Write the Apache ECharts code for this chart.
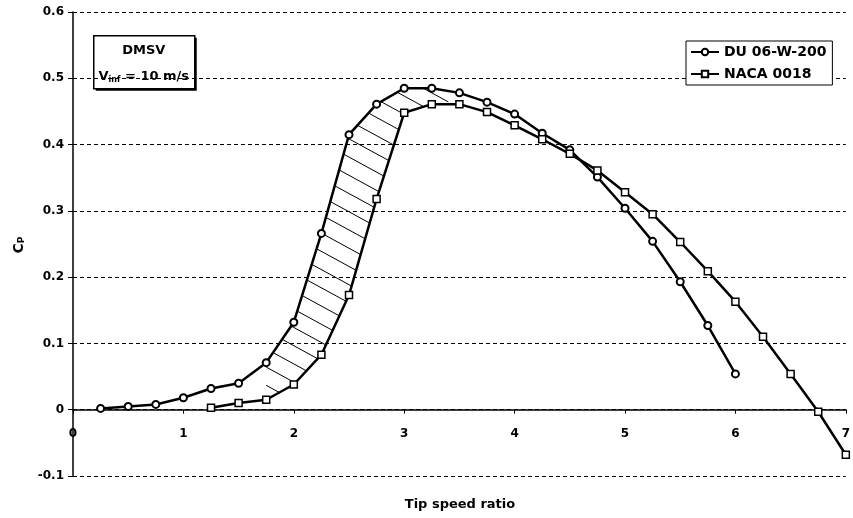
<!DOCTYPE html>
<html><head><meta charset="utf-8">
<script src="https://cdn.jsdelivr.net/npm/echarts@6/dist/echarts.min.js"></script>
<style>html,body{margin:0;padding:0;background:#fff}#c{width:853px;height:518px}</style>
</head><body><div id="c"></div>
<script>
// ---- data ----
const duX  = [0.25,0.5,0.75,1.0,1.25,1.5,1.75,2.0,2.25,2.5,2.75,3.0,3.25,3.5,3.75,4.0,4.25,4.5,4.75,5.0,5.25,5.5,5.75,6.0];
const duCp = [0.002,0.005,0.008,0.018,0.032,0.040,0.071,0.132,0.266,0.415,0.461,0.485,0.485,0.478,0.464,0.446,0.417,0.392,0.351,0.304,0.254,0.193,0.127,0.054];
const nacaX  = [1.25,1.5,1.75,2.0,2.25,2.5,2.75,3.0,3.25,3.5,3.75,4.0,4.25,4.5,4.75,5.0,5.25,5.5,5.75,6.0,6.25,6.5,6.75,7.0];
const nacaCp = [0.003,0.010,0.015,0.038,0.083,0.173,0.318,0.448,0.461,0.461,0.449,0.429,0.408,0.386,0.361,0.328,0.295,0.253,0.209,0.163,0.110,0.054,-0.003,-0.068];
const seriesNames = ['DU 06-W-200','NACA 0018'];
const hatchRange = [1.75, 3.4];   // x-range of hatched region between the curves
const xTickMin = 0, xTickMax = 7, xTickStep = 1;
const yTickMin = -0.1, yTickMax = 0.6, yTickStep = 0.1;

const FONT = 'DejaVu Sans';
const GRID = {left:73, right:5, top:12, bottom:42};
const chartH = 518;
const gridH = chartH - GRID.top - GRID.bottom;
// shift the x axis up so it sits on the y = 0 line
const xAxisOffset = -gridH * (0 - yTickMin) / (yTickMax - yTickMin);

const chart = echarts.init(document.getElementById('c'));

function interp(xs, ys, x){
  for (let i=0;i<xs.length-1;i++){
    if (x>=xs[i] && x<=xs[i+1]){
      const t=(x-xs[i])/(xs[i+1]-xs[i]);
      return ys[i]+t*(ys[i+1]-ys[i]);
    }
  }
  return null;
}
function segment(xs, ys, a, b){
  const pts=[[a, interp(xs,ys,a)]];
  xs.forEach((x,i)=>{ if (x>a && x<b) pts.push([x, ys[i]]); });
  pts.push([b, interp(xs,ys,b)]);
  return pts;
}

function renderHatch(params, api){
  const a=hatchRange[0], b=hatchRange[1];
  const up = segment(duX,duCp,a,b).map(p=>api.coord(p));
  const lo = segment(nacaX,nacaCp,a,b).reverse().map(p=>api.coord(p));
  const poly = up.concat(lo);
  const d=[33,18], L=Math.hypot(d[0],d[1]);
  const u=[d[0]/L,d[1]/L];
  const n=[-u[1],u[0]];
  const proj = p=>n[0]*p[0]+n[1]*p[1];
  let cmin=Infinity,cmax=-Infinity;
  poly.forEach(p=>{const c=proj(p); cmin=Math.min(cmin,c); cmax=Math.max(cmax,c);});
  const step = 16;
  const children=[];
  for (let c=cmin+step*0.6; c<cmax; c+=step){
    const hits=[];
    for (let i=0;i<poly.length;i++){
      const P=poly[i], Q=poly[(i+1)%poly.length];
      const fp=proj(P)-c, fq=proj(Q)-c;
      if ((fp<0&&fq>=0)||(fp>=0&&fq<0)){
        const t=fp/(fp-fq);
        hits.push([P[0]+t*(Q[0]-P[0]), P[1]+t*(Q[1]-P[1])]);
      }
    }
    hits.sort((A,B)=>(A[0]*u[0]+A[1]*u[1])-(B[0]*u[0]+B[1]*u[1]));
    for (let k=0;k+1<hits.length;k+=2){
      children.push({type:'line', shape:{x1:hits[k][0],y1:hits[k][1],x2:hits[k+1][0],y2:hits[k+1][1]},
        style:{stroke:'#000', lineWidth:1}});
    }
  }
  return {type:'group', children};
}

const option = {
  animation:false,
  backgroundColor:'#fff',
  grid:{left:GRID.left, right:GRID.right, top:GRID.top, bottom:GRID.bottom, containLabel:false},
  xAxis:{
    type:'value', min:xTickMin, max:xTickMax, interval:xTickStep,
    position:'bottom', offset:xAxisOffset,
    axisLine:{show:true, onZero:false, lineStyle:{color:'#000', width:1.5}},
    axisTick:{show:true, length:4, lineStyle:{color:'#000'}},
    axisLabel:{color:'#000', fontFamily:FONT, fontWeight:'bold', fontSize:12, margin:18},
    splitLine:{show:false}
  },
  yAxis:{
    type:'value', min:yTickMin, max:yTickMax, interval:yTickStep,
    axisLine:{show:true, onZero:false, lineStyle:{color:'#000', width:1.5}},
    axisTick:{show:true, length:5, lineStyle:{color:'#000'}},
    axisLabel:{color:'#000', fontFamily:FONT, fontWeight:'bold', fontSize:12, margin:9,
      formatter: v => (Math.round(v*10)/10).toString()},
    splitLine:{show:true, lineStyle:{color:'#000', width:1, type:[4,3]}}
  },
  legend:{
    orient:'vertical', left:686, top:41,
    padding:[4,6,4,4], itemGap:8, itemWidth:28, itemHeight:8,
    borderColor:'#000', borderWidth:1, backgroundColor:'#fff',
    textStyle:{color:'#000', fontFamily:FONT, fontWeight:'bold', fontSize:14},
    data: seriesNames
  },
  series:[
    {type:'custom', renderItem:renderHatch, data:[[hatchRange[0],0]], silent:true, z:1, clip:true},
    {name:seriesNames[0], type:'line', data: duX.map((x,i)=>[x,duCp[i]]), z:3,
      symbol:'circle', symbolSize:7,
      lineStyle:{color:'#000', width:2.5},
      itemStyle:{color:'#fff', borderColor:'#000', borderWidth:2}},
    {name:seriesNames[1], type:'line', data: nacaX.map((x,i)=>[x,nacaCp[i]]), z:3,
      symbol:'rect', symbolSize:7,
      lineStyle:{color:'#000', width:2.5},
      itemStyle:{color:'#fff', borderColor:'#000', borderWidth:1.5}}
  ],
  graphic:[
    {type:'group', left:93, top:35, children:[
      {type:'rect', shape:{x:2,y:2,width:101,height:53}, style:{fill:'#000'}},
      {type:'rect', shape:{x:0,y:0,width:101,height:53}, style:{fill:'#fff', stroke:'#000', lineWidth:1.5}},
      {type:'text', x:50, y:15, style:{text:'DMSV', fill:'#000', font:'bold 13px "DejaVu Sans"', align:'center', verticalAlign:'middle'}},
      {type:'text', x:50, y:41, style:{text:'{a|V}{b|inf}{a| = 10 m/s}', align:'center', verticalAlign:'middle',
        rich:{a:{fontFamily:FONT, fontWeight:'bold', fontSize:13, fill:'#000', verticalAlign:'middle'},
              b:{fontFamily:FONT, fontWeight:'bold', fontSize:8, fill:'#000', verticalAlign:'bottom', padding:[6,0,0,0]}}}}
    ]},
    {type:'text', x:19, y:245, rotation:Math.PI/2,
      style:{text:'{c|C}{p|P}', align:'center', verticalAlign:'middle',
        rich:{c:{fontFamily:FONT, fontWeight:'bold', fontSize:14, fill:'#000'},
              p:{fontFamily:FONT, fontWeight:'bold', fontSize:9, fill:'#000', verticalAlign:'bottom', padding:[6,0,0,0]}}}},
    {type:'text', x:460, y:505, style:{text:'Tip speed ratio', fill:'#000', font:'bold 13px "DejaVu Sans"', align:'center', verticalAlign:'middle'}}
  ]
};
chart.setOption(option);
</script>
</body></html>
